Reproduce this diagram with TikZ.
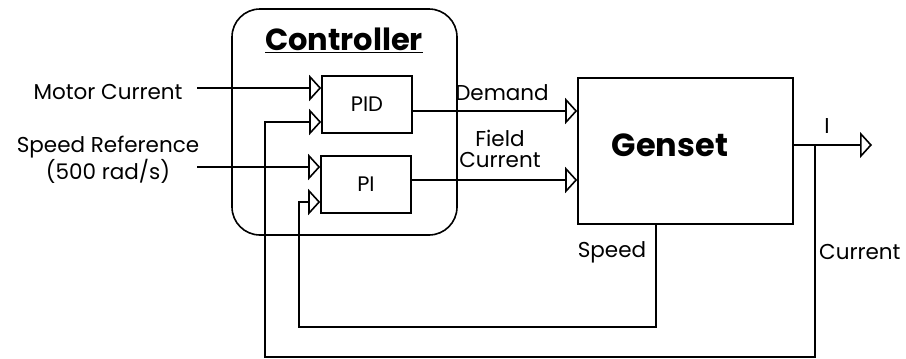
\documentclass[tikz,border=0pt]{standalone}
\usepackage{fontspec}
\setmainfont{Poppins}
\usetikzlibrary{arrows.meta,calc,positioning}

\tikzset{
  blk/.style={draw, line width=1.6pt, minimum width=90pt, minimum height=57pt, inner sep=0pt, font=\fontsize{21}{22}\selectfont},
  sig/.style={line width=1.6pt, -{Triangle[open, length=12pt, width=26pt, line width=1.6pt]}},
  lbl/.style={font=\fontsize{21.5}{21}\selectfont, inner sep=0pt, align=center},
}

\begin{document}
\begin{tikzpicture}[x=1pt,y=-1pt]
    \useasboundingbox (0,0) rectangle (906,359);
    % controller and its two blocks
    \node[draw, line width=1.6pt, rounded corners=28pt, minimum width=225pt, minimum height=226pt] (ctrl) at (344.5,122) {};
    \node[font=\fontsize{30.5}{32}\selectfont\bfseries, inner sep=0pt] (ctrlttl) at (344,40) {\underline{Controller}};
    \node[blk] (pid) at (367,104.5) {PID};
    \node[blk] (pi) at (366,184.5) {PI};
    \node[draw, line width=1.6pt, minimum width=215pt, minimum height=146pt] (genset) at (685.5,151) {};
    \node[font=\fontsize{32}{34}\selectfont\bfseries, inner sep=0pt] (gensetlbl) at (670,145) {Genset};

    % texts
    \node[lbl] (motor) at (108,92) {Motor Current};
    \node[lbl] (spdref) at (108,160) {Speed Reference\\(500 rad/s)};
    \node[lbl] (demand) at (502,93) {Demand};
    \node[lbl] (field) at (500,149) {Field\\Current};
    \node[lbl] (speed) at (612,252) {Speed};
    \node[lbl, anchor=west] (current) at (819,252) {Current};
    \node[lbl] (ilbl) at (827,126) {I};

    % ports
    \coordinate (pidin1) at ($(pid.west)+(0,-16.5)$);
    \coordinate (pidin2) at ($(pid.west)+(0,17.5)$);
    \coordinate (piin1) at ($(pi.west)+(0,-17.5)$);
    \coordinate (piin2) at ($(pi.west)+(0,17.5)$);
    \coordinate (pidout) at ($(pid.east)+(0,6.5)$);
    \coordinate (piout) at ($(pi.east)+(0,-4.5)$);
    \coordinate (gout) at ($(genset.east)+(0,-6)$);
    \coordinate (outtip) at (872,145);
    \coordinate (itap) at (815,145);
    \coordinate (ibot) at (265,357);
    \coordinate (spdtap) at ($(genset.south west)+(79,0)$);
    \coordinate (spdbot) at (299,327);
    \coordinate (mcstart) at (197,88);
    \coordinate (srstart) at (197,167);

    \draw[sig] (mcstart) -- (pidin1);
    \draw[sig] (srstart) -- (piin1);
    \draw[sig] (pidout) -- (genset.west |- pidout);
    \draw[sig] (piout) -- (genset.west |- piout);
    \draw[sig] (gout) -- (outtip);
    \draw[sig] (itap) |- (ibot) |- (pidin2);
    \draw[sig] (spdtap) |- (spdbot) |- (piin2);
\end{tikzpicture}
\end{document}
